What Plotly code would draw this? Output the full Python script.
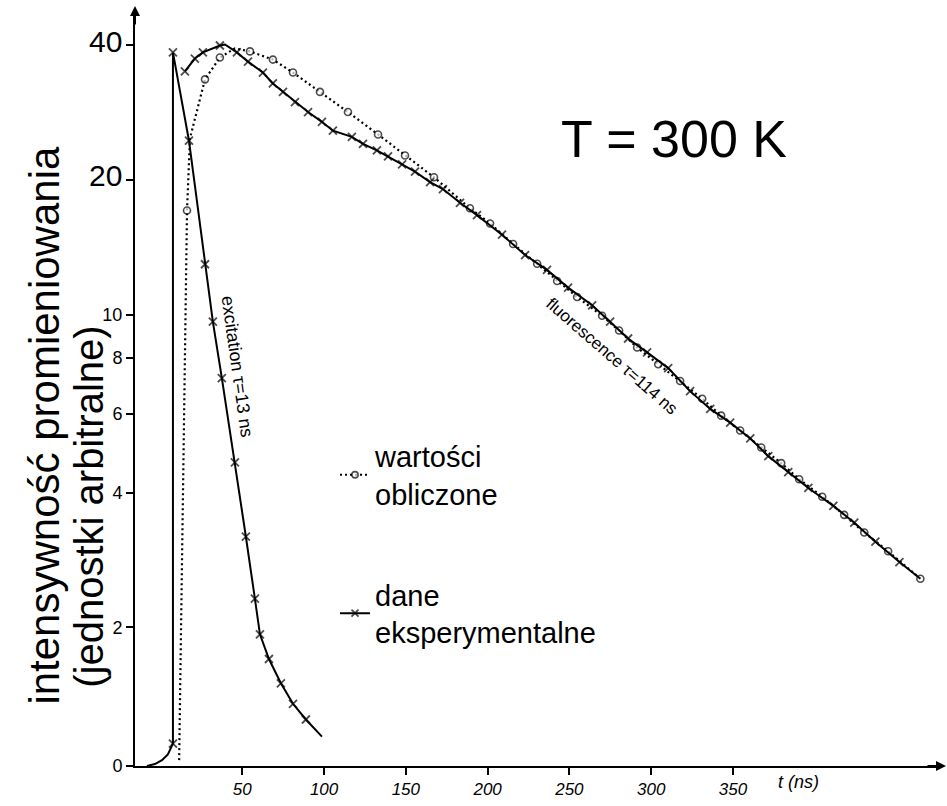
import plotly.graph_objects as go

# ---------------- data ----------------
# experimental excitation pulse (solid line, x markers)
exc_t = [-8.3, -3.4, 0.9, 4.5, 7.6, 7.6, 17.4, 27.2, 32.0, 37.5, 45.5, 52.2, 57.7,
         60.8, 66.3, 73.6, 81.0, 88.9, 98.7]
exc_I = [0.98, 0.99, 1.01, 1.04, 1.10, 38.6, 24.5, 12.97, 9.65, 7.22, 4.68, 3.19, 2.32,
         1.93, 1.70, 1.50, 1.35, 1.245, 1.14]
exc_marked = [0, 0, 0, 0, 1, 1, 1, 1, 1, 1, 1, 1, 1, 1, 1, 1, 1, 1, 0]

# experimental fluorescence (solid line, x markers)
fl_t = [14.9, 21.0, 25.9, 36.3, 39.4, 46.7, 53.5, 62.6, 68.7, 74.9, 82.2, 90.2, 98.7,
        105.4, 117.0, 123.8, 132.3, 139.1, 147.7, 155.6, 164.8, 172.7, 183.1, 193.5,
        208.8, 222.9, 236.3, 249.2, 263.9, 274.9, 285.9, 297.5, 310.4, 323.8, 336.1,
        348.3, 360.6, 371.6, 383.8, 396.1, 411.4, 424.2, 437.1, 451.8, 464.6]
fl_I = [35.0, 37.4, 38.6, 40.0, 40.2, 38.6, 36.8, 34.8, 32.9, 31.5, 29.9, 28.4, 27.0,
        25.8, 25.0, 24.1, 23.3, 22.6, 21.7, 20.9, 19.8, 19.1, 17.8, 16.7,
        15.1, 13.6, 12.6, 11.5, 10.5, 9.65, 8.85, 8.24, 7.60, 6.75, 6.16,
        5.74, 5.29, 4.83, 4.45, 4.10, 3.74, 3.43, 3.11, 2.80, 2.57]
fl_marked = [1, 1, 1, 1, 0] + [1] * 39 + [0]

# computed values (dotted line, open circles)
calc_t = [11.4, 16.2, 18.0, 21.6, 27.2, 36.3, 45.5, 54.7, 68.7, 81.0, 97.5, 114.6,
          133.0, 149.5, 167.2, 189.2, 201.5, 215.6, 230.3, 242.5, 254.7, 270.0,
          280.4, 291.4, 304.3, 317.7, 331.2, 342.8, 354.4, 367.3, 379.5, 390.5,
          404.6, 418.0, 430.3, 444.9, 464.6]
calc_I = [1.01, 17.1, 24.8, 28.1, 33.6, 37.6, 39.4, 38.8, 37.2, 34.8, 31.5, 28.4,
          25.3, 22.7, 20.3, 17.3, 16.0, 14.4, 13.0, 11.9, 10.96, 9.95,
          9.22, 8.45, 7.75, 7.11, 6.49, 5.95, 5.51, 5.05, 4.66, 4.29,
          3.92, 3.57, 3.26, 2.96, 2.57]
calc_marked = [0, 1, 0, 0, 1, 1, 0] + [1] * 30

y_tick_vals = [0.98, 2, 4, 6, 8, 10, 20, 40]
y_tick_labels = ["0", "2", "4", "6", "8", "10", "20", "40"]
x_tick_vals = [50, 100, 150, 200, 250, 300, 350]
x_tick_labels = ["50", "100", "150", "200", "250", "300", "350"]

# ---------------- layout helpers ----------------
W, H = 947, 806
ML, MR, MT, MB = 135, 7, 10, 32
PW, PH = W - ML - MR, H - MT - MB


def pxx(p):
    return (p - ML) / PW


def pyy(p):
    return (H - MB - p) / PH


FONT = "Liberation Sans"
INK = "black"

exp_t = exc_t + [None] + fl_t
exp_I = exc_I + [None] + fl_I
exp_sizes = [8 if m else 0 for m in exc_marked] + [0] + [8 if m else 0 for m in fl_marked]
calc_sizes = [7 if m else 0 for m in calc_marked]

fig = go.Figure()
fig.add_trace(go.Scatter(
    x=calc_t, y=calc_I, mode="lines+markers", name="wartości<br>obliczone",
    line=dict(color=INK, width=2.2, dash="2px,3px"),
    marker=dict(symbol="circle", size=calc_sizes, color="white",
                line=dict(color=INK, width=1.6)),
    legendgroup="a", cliponaxis=False,
))
fig.add_trace(go.Scatter(
    x=exp_t, y=exp_I, mode="lines+markers", name="dane<br>eksperymentalne",
    line=dict(color=INK, width=2), connectgaps=False,
    marker=dict(symbol="x-thin", size=exp_sizes, color=INK,
                line=dict(color=INK, width=1.8)),
    legendgroup="b", cliponaxis=False,
))

y_tick_text = []
for v, s in zip(y_tick_vals, y_tick_labels):
    if v >= 20:
        y_tick_text.append('<span style="font-size:30px">' + s + '</span>')
    else:
        y_tick_text.append(s)


def note(text, xp, yp, size, angle=0, style="normal"):
    return dict(text=text, x=pxx(xp), y=pyy(yp), xref="paper", yref="paper",
                xanchor="center", yanchor="middle", showarrow=False,
                textangle=angle,
                font=dict(family=FONT, size=size, color=INK, style=style))


annotations = [
    note("T = 300 K", 674, 140, 52),
    note("excitation τ=13 ns", 237, 370, 18, angle=82),
    note("fluorescence τ=114 ns", 612, 360, 17, angle=41),
    note("intensywność promieniowania", 45, 430, 42, angle=-90),
    note("(jednostki arbitralne)", 89, 512, 40, angle=-90),
    note("t (ns)", 798, 790, 18, style="italic"),
    # axis arrows
    dict(text="", x=pxx(946), y=0, xref="paper", yref="paper", ax=-20, ay=0,
         showarrow=True, arrowhead=2, arrowsize=1, arrowwidth=2, arrowcolor=INK),
    dict(text="", x=0, y=pyy(6), xref="paper", yref="paper", ax=0, ay=20,
         showarrow=True, arrowhead=2, arrowsize=1, arrowwidth=2, arrowcolor=INK),
]

fig.update_layout(
    width=W, height=H, autosize=False,
    margin=dict(l=ML, r=MR, t=MT, b=MB),
    paper_bgcolor="white", plot_bgcolor="white",
    font=dict(family=FONT, color=INK),
    showlegend=True,
    legend=dict(x=pxx(335), y=pyy(435), xanchor="left", yanchor="top",
                font=dict(family=FONT, size=29, color=INK),
                bgcolor="rgba(0,0,0,0)", tracegroupgap=60),
    annotations=annotations,
    xaxis=dict(range=[-15.6, 476.6], showgrid=False, zeroline=False,
               showline=True, linecolor=INK, linewidth=2,
               tickmode="array", tickvals=x_tick_vals, ticktext=x_tick_labels,
               ticks="outside", ticklen=7, tickwidth=1.5, tickcolor=INK,
               tickfont=dict(family=FONT, size=17, color=INK, style="italic")),
    yaxis=dict(type="log", range=[-0.0088, 1.6814], showgrid=False, zeroline=False,
               showline=True, linecolor=INK, linewidth=2,
               tickmode="array", tickvals=y_tick_vals, ticktext=y_tick_text,
               ticks="outside", ticklen=7, tickwidth=1.5, tickcolor=INK,
               tickfont=dict(family=FONT, size=18, color=INK)),
)

fig.write_html("out.html")
